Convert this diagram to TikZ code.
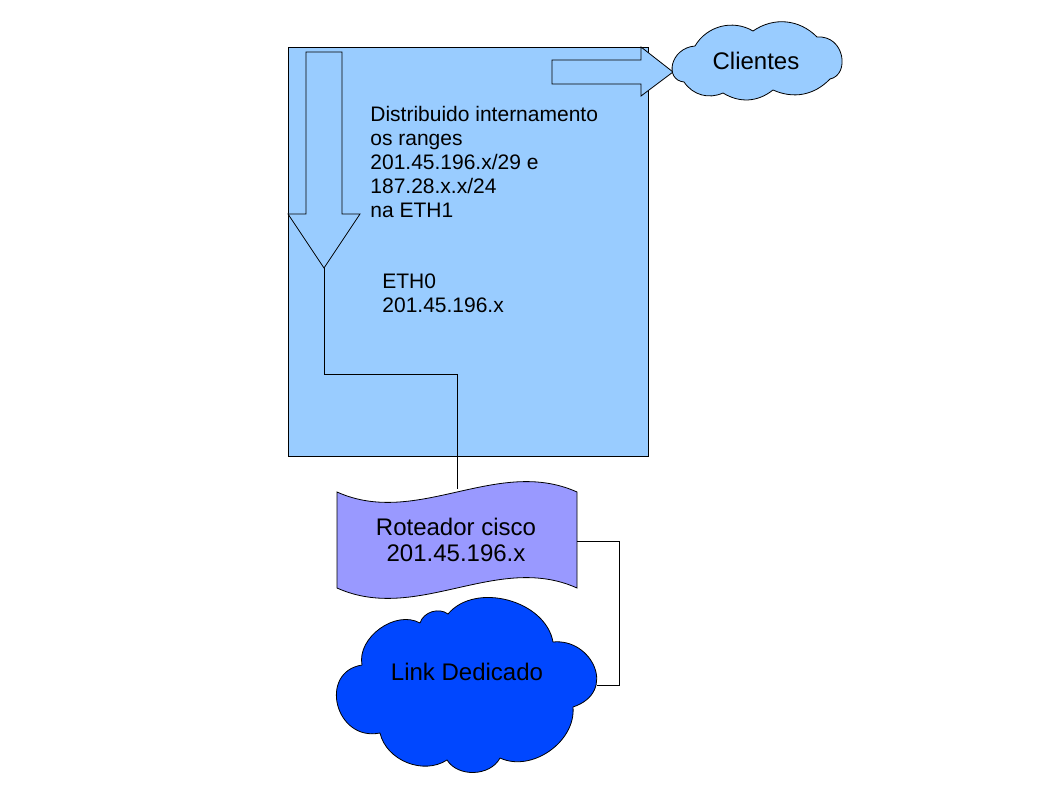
\documentclass[tikz,border=0pt]{standalone}
\usepackage{fontspec}
\setmainfont{Liberation Sans}
\definecolor{boxblue}{HTML}{99CCFF}
\definecolor{routerc}{HTML}{9999FF}
\definecolor{linkc}{HTML}{0047FF}
\begin{document}
\begin{tikzpicture}[x=1pt,y=-1pt,line width=0.8pt,
  shapeline/.style={draw=black,line join=miter},
  wire/.style={draw=black,line width=0.8pt},
  txt/.style={inner sep=0pt,align=left,text=black}]
\useasboundingbox (0,0) rectangle (1058,794);
\fill[white] (0,0) rectangle (1058,794);
% main box
\node[shapeline,fill=boxblue,minimum width=360pt,minimum height=409pt,inner sep=0pt,anchor=north west] (box) at (288,47) {};
% down arrow
\draw[shapeline,fill=boxblue] (306,52) -- (342,52) -- (342,214) -- (360,214) -- (324,268) -- (288,214) -- (306,214) -- cycle;
\coordinate (dtip) at (324,268);
% right arrow
\draw[shapeline,fill=boxblue] (552,60) -- (641,60) -- (641,47) -- (673,72) -- (641,96) -- (641,84) -- (552,84) -- cycle;
% clientes cloud
\draw[shapeline,fill=boxblue,line join=round] (695,46) to[bend left=45] (753,31) to[bend left=40] (817,37)
  .. controls (845,35) and (850,75) .. (830,79) to[bend left=35] (773,90) to[bend left=35] (723,93)
  to[bend left=40] (684,82) .. controls (664,80) and (670,48) .. cycle;
\node[txt,font=\fontsize{24}{27}\selectfont] (clientes) at (756,61) {Clientes};
% texts
\node[txt,anchor=north west,font=\fontsize{21}{24}\selectfont] (dist) at (370,106) {Distribuido internamento\\os ranges\\201.45.196.x/29 e\\187.28.x.x/24\\na ETH1};
\node[txt,anchor=north west,font=\fontsize{21}{24}\selectfont] (eth0) at (382,273) {ETH0\\201.45.196.x};
% router
\draw[shapeline,fill=routerc] (337,492) .. controls (417,528) and (497,456) .. (577,492) -- (577,588) .. controls (497,552) and (417,624) .. (337,588) -- cycle;
\node[txt,align=center,font=\fontsize{24}{26.5}\selectfont] (router) at (456,540) {Roteador cisco\\201.45.196.x};
\coordinate (rtop) at (457,489);
\coordinate (rright) at (577,541);
% link cloud
\draw[shapeline,fill=linkc,line join=round] (362,665) to[bend left=65] (420,623) to[bend left=55] (448,614)
  to[bend left=65] (553,642) .. controls (592,638) and (618,692) .. (573,707) to[bend left=60] (500,758)
  to[bend left=60] (447,760) to[bend left=55] (380,733) .. controls (335,742) and (318,672) .. cycle;
\node[txt,font=\fontsize{24}{27}\selectfont] (link) at (467,672) {Link Dedicado};
\coordinate (lright) at (597,685);
% connectors
\draw[wire] (dtip) -- (324,374) -| (rtop);
\draw[wire] (rright) -- (619,541) |- (lright);
\end{tikzpicture}
\end{document}
